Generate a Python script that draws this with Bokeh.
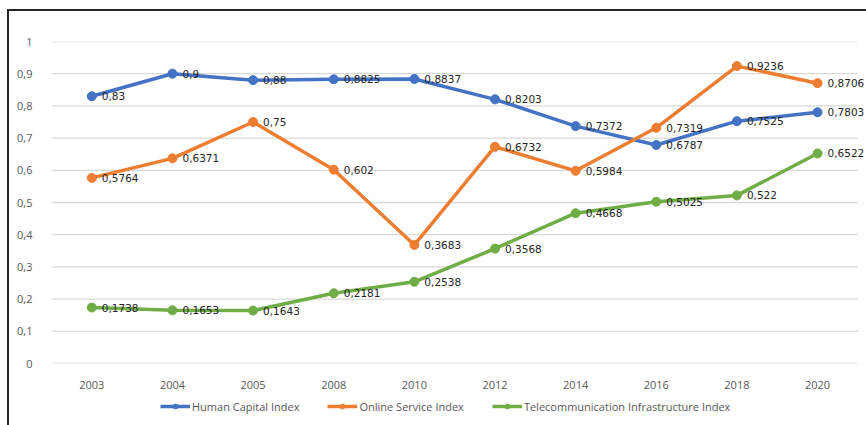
from bokeh.plotting import figure
from bokeh.layouts import column
from bokeh.models import Range1d, FixedTicker, Legend, LegendItem, ColumnDataSource, LabelSet
from bokeh.core.properties import value
from bokeh.embed import file_html
from bokeh.resources import INLINE

years = ["2003", "2004", "2005", "2008", "2010", "2012", "2014", "2016", "2018", "2020"]
human_capital = [0.83, 0.9, 0.88, 0.8825, 0.8837, 0.8203, 0.7372, 0.6787, 0.7525, 0.7803]
online_service = [0.5764, 0.6371, 0.75, 0.602, 0.3683, 0.6732, 0.5984, 0.7319, 0.9236, 0.8706]
telecom = [0.1738, 0.1653, 0.1643, 0.2181, 0.2538, 0.3568, 0.4668, 0.5025, 0.522, 0.6522]
series_names = ["Human Capital Index", "Online Service Index", "Telecommunication Infrastructure Index"]
colors = ["#4472C4", "#ED7D31", "#70AD47"]
y_ticks = [0, 0.1, 0.2, 0.3, 0.4, 0.5, 0.6, 0.7, 0.8, 0.9, 1.0]


def fmt(v):
    s = ("%.4f" % v).rstrip("0").rstrip(".")
    return s.replace(".", ",")


n = len(years)
xpos = list(range(n))  # category slots

p = figure(width=857, height=382, x_range=Range1d(-0.5, n - 0.393), y_range=Range1d(0, 1.0),
           output_backend="svg", toolbar_location=None,
           min_border_left=42, min_border_right=0, min_border_top=30, min_border_bottom=30)
p.outline_line_color = None
p.background_fill_color = "white"
p.border_fill_color = "white"

p.xgrid.grid_line_color = None
p.ygrid.grid_line_color = None
# horizontal gridlines spanning only the category area
p.segment(x0=[-0.5] * len(y_ticks), x1=[n - 0.5] * len(y_ticks), y0=y_ticks, y1=y_ticks,
          line_color="#D9D9D9", line_width=1.3)

p.xaxis.ticker = FixedTicker(ticks=xpos)
p.xaxis.major_label_overrides = {i: y for i, y in zip(xpos, years)}
p.yaxis.ticker = FixedTicker(ticks=y_ticks)
p.yaxis.major_label_overrides = {t: fmt(t) for t in y_ticks}
for ax in (p.xaxis, p.yaxis):
    ax.axis_line_color = None
    ax.major_tick_line_color = None
    ax.minor_tick_line_color = None
    ax.major_label_text_font = "Open Sans"
    ax.major_label_text_font_size = "11px"
    ax.major_label_text_color = "#595959"
p.xaxis.major_label_standoff = 11
p.yaxis.major_label_standoff = 13

legend_fig = figure(width=857, height=32, x_range=Range1d(0, 1), y_range=Range1d(0, 1),
                    output_backend="svg", toolbar_location=None,
                    x_axis_type=None, y_axis_type=None,
                    min_border_left=0, min_border_right=0, min_border_top=0, min_border_bottom=0)
legend_fig.outline_line_color = None
legend_fig.xgrid.visible = False
legend_fig.ygrid.visible = False

items = []
for name, vals, c in zip(series_names, [human_capital, online_service, telecom], colors):
    src = ColumnDataSource(dict(x=xpos, y=vals, t=[fmt(v) for v in vals]))
    p.line("x", "y", source=src, line_color=c, line_width=3.5)
    p.scatter("x", "y", source=src, size=9, fill_color=c, line_color=c)
    lbl = LabelSet(x="x", y="y", text="t", source=src, x_offset=10, y_offset=0,
                   text_font=value("DejaVu Sans"), text_font_size="10.5px",
                   text_color="#262626", text_baseline="middle", text_align="left")
    p.add_layout(lbl)
    # legend-only renderers (points outside the visible range)
    lr1 = legend_fig.line([-5, -4], [-5, -4], line_color=c, line_width=3.5)
    lr2 = legend_fig.scatter([-5], [-5], size=9, fill_color=c, line_color=c)
    items.append(LegendItem(label=name, renderers=[lr1, lr2]))

legend = Legend(items=items, orientation="horizontal", location=(109, 11),
                glyph_width=30, glyph_height=12, label_height=16, label_standoff=2, spacing=28,
                label_text_font="Open Sans", label_text_font_size="11px",
                label_text_color="#595959", border_line_color=None,
                background_fill_alpha=0, padding=2, margin=0)
legend_fig.add_layout(legend)

layout = column(p, legend_fig, spacing=0, margin=(9, 0, 0, 7),
                styles={"border-left": "2px solid #262626", "border-top": "2px solid #262626"})

open("out.html", "w").write(file_html(layout, INLINE))
